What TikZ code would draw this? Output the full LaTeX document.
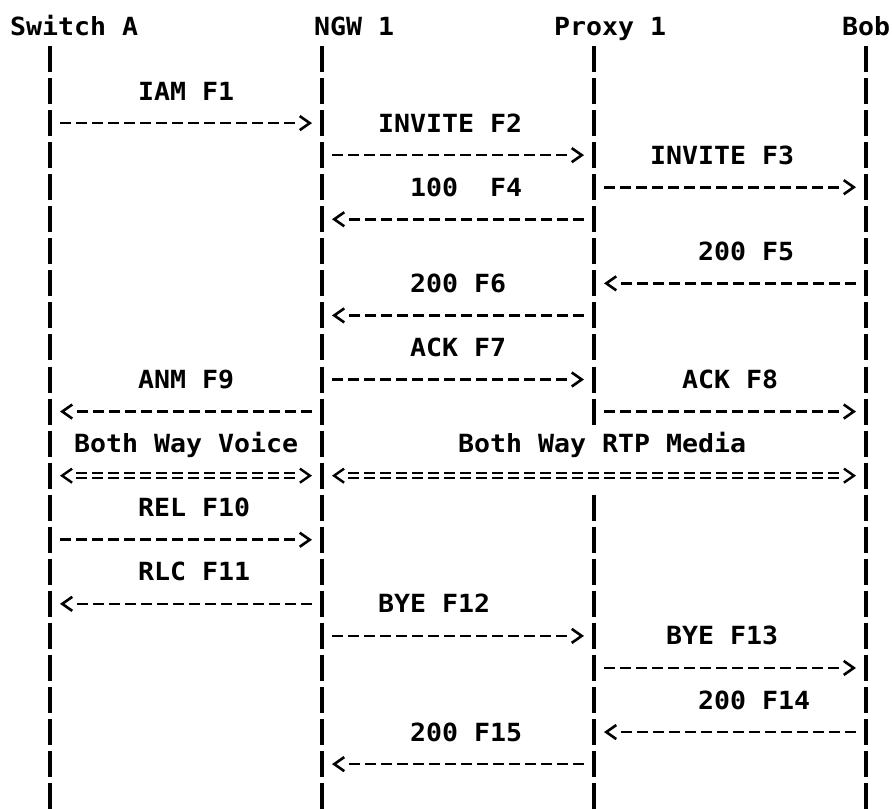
\documentclass[tikz,border=0pt]{standalone}
\usepackage{fontspec}
\usepackage{tikz}
\usetikzlibrary{arrows.meta, positioning}
\newfontfamily\asciifont{DejaVu Sans Mono}[FakeStretch=1.063]

\begin{document}
\begin{tikzpicture}[x=1pt, y=-1pt, >={Straight Barb[length=10pt, width=14pt]}]
    \tikzstyle{word} = [anchor=base west, inner sep=0pt, font=\fontsize{25pt}{25pt}\asciifont\bfseries]
    \tikzstyle{life} = [line width=3.6pt, dash pattern=on 26pt off 6.05pt, shorten <=-13pt, shorten >=-13pt]
    \tikzstyle{msg} = [->, line width=2.6pt, dash pattern=on 0pt off 2000pt, shorten <=10pt, shorten >=10pt,
        postaction={draw, -, dash pattern=on 11pt off 5pt, shorten >=26pt}]
    \tikzstyle{media} = [<->, line width=2.4pt, dash pattern=on 0pt off 2000pt, shorten <=10pt, shorten >=10pt,
        postaction={draw, -, double, line width=2pt, double distance=3pt, dash pattern=on 11pt off 5pt, shorten <=26pt, shorten >=26pt}]

    \useasboundingbox (0,0) rectangle (893,808);

    % heads
    \node [word] (swA) at (10,36) {Switch A};
    \node [word] (ngw) at (314,36) {NGW 1};
    \node [word] (proxy) at (554,36) {Proxy 1};
    \node [word] (bob) at (842,36) {Bob};

    % one point per row on every lifeline
    \foreach \who/\x in {sw/50, gw/322, px/594, bb/866}
        \foreach \r in {0,...,23}
            \coordinate (\who\r) at (\x, {59+32.05*\r});

    \draw [life] (sw0) -- (sw23);
    \draw [life] (gw0) -- (gw23);
    \draw [life] (px0) -- (px11);
    \draw [life] (px14) -- (px23);
    \draw [life] (bb0) -- (bb23);

    % call setup
    \node [word] (f1) at (138,100.05) {IAM F1};
    \draw [msg] (sw2) -- (gw2);
    \node [word] (f2) at (378,132.1) {INVITE F2};
    \draw [msg] (gw3) -- (px3);
    \node [word] (f3) at (650,164.15) {INVITE F3};
    \draw [msg] (px4) -- (bb4);
    \node [word] (f4) at (410,196.2) {100\ \ F4};
    \draw [msg] (px5) -- (gw5);
    \node [word] (f5) at (698,260.3) {200 F5};
    \draw [msg] (bb7) -- (px7);
    \node [word] (f6) at (410,292.35) {200 F6};
    \draw [msg] (px8) -- (gw8);
    \node [word] (f7) at (410,356.45) {ACK F7};
    \draw [msg] (gw10) -- (px10);
    \node [word] (f9) at (138,388.5) {ANM F9};
    \draw [msg] (gw11) -- (sw11);
    \node [word] (f8) at (682,388.5) {ACK F8};
    \draw [msg] (px11) -- (bb11);

    % media
    \node [word] (voice) at (74,452.6) {Both Way Voice};
    \node [word] (rtp) at (458,452.6) {Both Way RTP Media};
    \draw [media] (sw13) -- (gw13);
    \draw [media] (gw13) -- (bb13);

    % release
    \node [word] (f10) at (138,516.7) {REL F10};
    \draw [msg] (sw15) -- (gw15);
    \node [word] (f11) at (138,580.8) {RLC F11};
    \draw [msg] (gw17) -- (sw17);
    \node [word] (f12) at (378,612.85) {BYE F12};
    \draw [msg] (gw18) -- (px18);
    \node [word] (f13) at (666,644.9) {BYE F13};
    \draw [msg] (px19) -- (bb19);
    \node [word] (f14) at (698,709) {200 F14};
    \draw [msg] (bb21) -- (px21);
    \node [word] (f15) at (410,741.05) {200 F15};
    \draw [msg] (px22) -- (gw22);
\end{tikzpicture}
\end{document}
